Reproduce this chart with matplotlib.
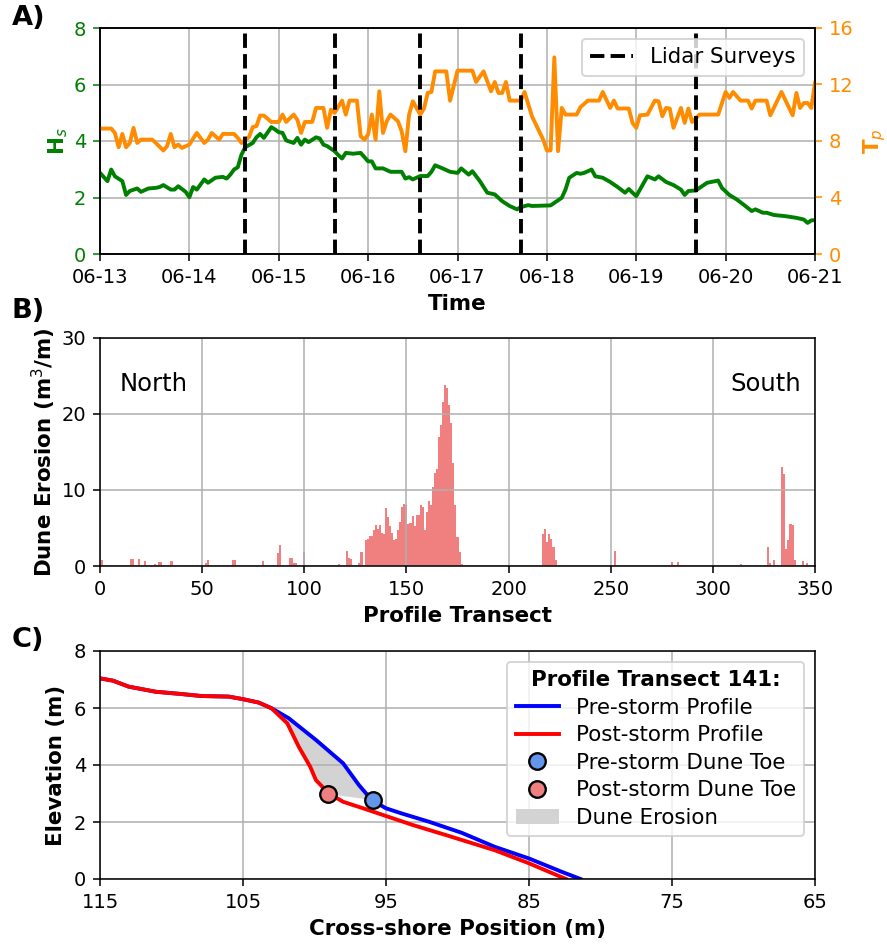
import matplotlib
matplotlib.use("Agg")
import matplotlib.pyplot as plt
import matplotlib.dates as mdates
from matplotlib.lines import Line2D
from matplotlib.patches import Patch
import numpy as np
import pandas as pd

# ---------------- Panel A: wave conditions ----------------
START = pd.Timestamp("2019-06-13")

hs_hours = [0, 2, 3, 4, 6, 7, 8, 10, 11, 13, 15, 16, 17, 19, 20, 21, 23, 24, 25, 26,
            28, 29, 31, 33, 34, 35, 36, 37, 38, 39, 41, 42, 43, 44, 46, 47, 48, 49, 50, 52,
            53, 54, 55, 56, 58, 59, 60, 61, 63, 64, 65, 66, 68, 70, 72, 73, 74, 76, 78, 81,
            82, 83, 84, 86, 88, 89, 90, 92, 94, 96, 97, 99, 100, 102, 104, 106, 108, 110, 112, 113,
            115, 116, 121, 122, 124, 125, 126, 128, 129, 130, 132, 133, 135, 137, 139, 141, 142, 143, 144, 145,
            147, 149, 150, 152, 154, 156, 157, 158, 160, 163, 166, 167, 169, 171, 173, 175, 176, 178, 179, 181,
            184, 187, 189, 190, 191, 192]
hs_values = [2.87, 2.58, 2.99, 2.75, 2.58, 2.09, 2.23, 2.32, 2.20, 2.32, 2.34, 2.37, 2.44, 2.28, 2.28, 2.40, 2.20, 2.01, 2.37, 2.28,
             2.64, 2.52, 2.70, 2.73, 2.67, 2.81, 2.99, 3.07, 3.52, 3.78, 3.93, 4.13, 4.25, 4.11, 4.49, 4.41, 4.31, 4.29, 4.02, 3.93,
             4.11, 3.87, 4.05, 3.96, 4.13, 4.09, 3.87, 3.82, 3.64, 3.50, 3.38, 3.58, 3.55, 3.58, 3.28, 3.28, 3.03, 3.03, 2.91, 2.91,
             2.67, 2.72, 2.64, 2.76, 2.76, 2.91, 3.14, 3.03, 2.91, 2.87, 3.03, 2.81, 2.93, 2.58, 2.17, 2.11, 1.87, 1.70, 1.58, 1.66,
             1.73, 1.70, 1.72, 1.81, 1.99, 2.28, 2.70, 2.87, 2.84, 2.87, 2.99, 2.75, 2.70, 2.55, 2.37, 2.17, 2.30, 2.17, 2.05, 2.28,
             2.75, 2.64, 2.75, 2.55, 2.44, 2.28, 2.09, 2.23, 2.25, 2.52, 2.60, 2.34, 2.09, 1.93, 1.73, 1.52, 1.58, 1.46, 1.46, 1.38,
             1.34, 1.28, 1.22, 1.10, 1.19, 1.20]

tp_hours = [0, 3, 4, 5, 6, 7, 8, 9, 10, 11, 14, 15, 17, 18, 19, 20, 21, 22, 24, 25,
            26, 28, 29, 30, 32, 33, 36, 37, 38, 40, 41, 42, 43, 44, 46, 48, 49, 50, 52, 53,
            54, 55, 57, 58, 60, 61, 62, 63, 65, 66, 67, 69, 70, 71, 72, 73, 74, 75, 76, 77,
            78, 80, 81, 82, 83, 84, 85, 86, 87, 88, 89, 90, 93, 94, 96, 100, 101, 103, 105, 106,
            107, 108, 109, 110, 113, 114, 116, 119, 120, 121, 122, 123, 124, 125, 128, 129, 131, 134, 135, 137,
            138, 139, 142, 143, 144, 145, 147, 149, 150, 151, 152, 153, 154, 156, 157, 158, 159, 161, 166, 168,
            169, 170, 172, 174, 175, 176, 179, 180, 183, 186, 187, 188, 189, 190, 191, 192]
tp_values = [8.88, 8.88, 8.57, 7.56, 8.50, 7.56, 7.86, 8.93, 7.86, 8.10, 8.10, 7.86, 7.33, 7.63, 8.50, 7.56, 7.75, 7.51, 7.75, 8.17,
             8.57, 7.86, 8.10, 8.57, 8.10, 8.50, 8.50, 8.22, 7.86, 8.27, 8.98, 9.05, 9.80, 9.80, 9.35, 9.35, 9.87, 9.35, 9.87, 9.50,
             8.57, 9.35, 9.35, 10.34, 10.34, 8.93, 10.22, 9.99, 10.86, 9.87, 10.86, 10.86, 8.34, 8.10, 8.46, 9.87, 8.10, 11.52, 8.57, 9.40,
             9.87, 9.40, 8.69, 7.28, 9.87, 10.81, 10.34, 9.87, 10.30, 11.40, 11.47, 12.93, 12.93, 10.85, 12.98, 12.98, 12.18, 12.93, 11.52, 12.18,
             11.40, 11.40, 12.18, 10.86, 10.86, 11.47, 9.75, 8.10, 7.33, 7.33, 13.92, 7.28, 10.34, 9.87, 9.87, 10.39, 10.86, 10.86, 11.47, 10.34,
             10.86, 10.30, 10.30, 9.28, 8.93, 9.82, 9.87, 10.86, 10.81, 9.75, 10.34, 10.30, 8.93, 10.34, 9.28, 10.30, 9.35, 9.87, 9.87, 11.47,
             11.05, 11.47, 10.86, 10.86, 10.30, 10.86, 10.86, 9.82, 11.47, 9.82, 11.40, 10.34, 10.69, 10.69, 10.34, 12.11]

lidar_times = ["2019-06-14 15:00", "2019-06-15 15:00", "2019-06-16 14:00",
               "2019-06-17 17:00", "2019-06-19 16:00"]

# ---------------- Panel B: dune erosion per transect ----------------
N_TRANSECTS = 351
erosion_transects = [1, 15, 16, 19, 22, 27, 29, 30, 35, 52, 53, 65, 66, 80, 87, 88, 93, 94, 95, 96,
                     100, 113, 117, 121, 122, 123, 127, 128, 130, 131, 132, 133, 134, 135, 136, 137, 138, 139, 140, 141,
                     142, 143, 144, 145, 146, 147, 148, 149, 150, 151, 152, 153, 154, 155, 156, 157, 158, 159, 160, 161,
                     162, 163, 164, 165, 166, 167, 168, 169, 170, 171, 172, 173, 174, 175, 176, 177,
                     217, 218, 219, 220, 221, 222, 223, 252, 280, 283, 314, 327, 328, 330,
                     334, 335, 336, 337, 338, 339, 340, 344, 346]
erosion_values = [0.8, 0.9, 0.9, 0.9, 0.6, 0.3, 0.5, 0.5, 0.6, 0.4, 0.8, 0.8, 0.8, 0.6, 1.75, 2.75, 1.0, 1.0, 0.4, 0.4,
                  1.8, 0.1, 0.2, 2.0, 1.0, 0.9, 0.4, 1.9, 3.4, 3.5, 4.0, 3.9, 4.7, 5.4, 4.9, 5.4, 4.3, 4.2, 7.6, 6.5,
                  5.2, 4.3, 3.4, 3.6, 4.7, 5.8, 7.8, 8.2, 8.0, 5.5, 5.7, 6.6, 5.3, 6.7, 6.7, 8.0, 7.8, 4.8, 7.1, 8.5,
                  8.0, 10.4, 12.2, 12.7, 17.0, 18.6, 21.6, 23.8, 23.4, 21.2, 18.8, 13.5, 8.0, 3.8, 1.9, 0.2,
                  4.2, 4.9, 3.2, 4.2, 3.5, 2.5, 0.8, 2.0, 0.5, 0.5, 0.2, 2.5, 0.4, 0.8,
                  13.0, 12.1, 2.3, 3.4, 5.5, 5.4, 0.8, 0.7, 0.4]

# ---------------- Panel C: cross-shore profiles ----------------
pre_x = [115, 114.1, 113, 111.1, 109.3, 107.9, 106, 105, 103.9, 103, 101.8, 99.9,
         98, 96.9, 96, 95, 93.9, 92, 89.7, 87.4, 85, 82.7, 81.4]
pre_z = [7.04, 6.96, 6.75, 6.57, 6.49, 6.42, 6.40, 6.31, 6.19, 5.99, 5.64, 4.88,
         4.06, 3.30, 2.77, 2.48, 2.30, 2.01, 1.62, 1.13, 0.72, 0.25, 0.0]
post_x = [115, 114.1, 113, 111.1, 109.3, 107.9, 106, 105, 103.9, 103, 101.9, 101.1,
          100.3, 99.9, 99, 98, 96.6, 95, 93.1, 90.8, 87.4, 85, 82.7, 82.4]
post_z = [7.04, 6.96, 6.75, 6.57, 6.49, 6.42, 6.40, 6.31, 6.19, 5.99, 5.46, 4.64,
          3.94, 3.47, 3.0, 2.71, 2.48, 2.21, 1.89, 1.54, 1.01, 0.55, 0.06, 0.0]
pre_toe = (95.93, 2.77)
post_toe = (99.03, 2.98)
erosion_start_x = 103.0
transect_id = 141

DPI = 140
LABEL_SIZE = 11
LEGEND_SIZE = 11
fig = plt.figure(figsize=(887 / DPI, 944 / DPI), dpi=DPI)

LEFT, WIDTH = 100 / 887, 715 / 887
ax_a = fig.add_axes([LEFT, 1 - 254 / 944, WIDTH, 226 / 944])
ax_b = fig.add_axes([LEFT, 1 - 566 / 944, WIDTH, 228 / 944])
ax_c = fig.add_axes([LEFT, 1 - 879 / 944, WIDTH, 228 / 944])

# ---- A) Hs / Tp time series
hs_t = START + pd.to_timedelta(hs_hours, unit="h")
tp_t = START + pd.to_timedelta(tp_hours, unit="h")

ax_a.plot(hs_t, hs_values, color="green", linewidth=2)
ax_a.set_ylim(0, 8)
ax_a.set_yticks(np.arange(0, 9, 2))
ax_a.set_ylabel("H$_s$", color="green", fontweight="bold", fontsize=LABEL_SIZE, labelpad=2)
ax_a.tick_params(axis="y", colors="green")
ax_a.set_xlim(START, START + pd.Timedelta(days=8))
ax_a.xaxis.set_major_locator(mdates.DayLocator())
ax_a.xaxis.set_major_formatter(mdates.DateFormatter("%m-%d"))
ax_a.set_xlabel("Time", fontweight="bold", fontsize=LABEL_SIZE)
ax_a.grid(True)

ax_tp = ax_a.twinx()
ax_tp.plot(tp_t, tp_values, color="darkorange", linewidth=2)
ax_tp.set_ylim(0, 16)
ax_tp.set_yticks(np.arange(0, 17, 4))
ax_tp.set_ylabel("T$_p$", color="darkorange", fontweight="bold", fontsize=LABEL_SIZE)
ax_tp.tick_params(axis="y", colors="darkorange")

for i, t in enumerate(pd.to_datetime(lidar_times)):
    ax_tp.axvline(t, color="black", linestyle="--", linewidth=2,
                  label="Lidar Surveys" if i == 0 else None)
ax_tp.legend(loc="upper right", fontsize=LEGEND_SIZE)

# ---- B) erosion bars
erosion = np.zeros(N_TRANSECTS)
erosion[erosion_transects] = erosion_values
ax_b.bar(np.arange(N_TRANSECTS), erosion, width=1.0, color="lightcoral")
ax_b.set_xlim(0, 350)
ax_b.set_ylim(0, 30)
ax_b.set_xticks(np.arange(0, 351, 50))
ax_b.set_yticks([0, 10, 20, 30])
ax_b.set_xlabel("Profile Transect", fontweight="bold", fontsize=LABEL_SIZE)
ax_b.set_ylabel("Dune Erosion (m$^3$/m)", fontweight="bold", fontsize=LABEL_SIZE, labelpad=2)
ax_b.text(0.028, 0.80, "North", transform=ax_b.transAxes, fontsize=12.5, va="center")
ax_b.text(0.98, 0.80, "South", transform=ax_b.transAxes, fontsize=12.5, va="center", ha="right")
ax_b.grid(True)

# ---- C) profile comparison
pre_x_arr, pre_z_arr = np.array(pre_x), np.array(pre_z)
post_x_arr, post_z_arr = np.array(post_x), np.array(post_z)
pre_sel = (pre_x_arr <= erosion_start_x) & (pre_x_arr >= pre_toe[0])
post_sel = (post_x_arr <= erosion_start_x) & (post_x_arr >= post_toe[0])
poly_x = np.concatenate([pre_x_arr[pre_sel], [pre_toe[0], post_toe[0]], post_x_arr[post_sel][::-1]])
poly_z = np.concatenate([pre_z_arr[pre_sel], [pre_toe[1], post_toe[1]], post_z_arr[post_sel][::-1]])
ax_c.fill(poly_x, poly_z, color="lightgray", linewidth=0)

toe_style = dict(marker="o", linestyle="none", markeredgecolor="black",
                 markeredgewidth=1.2, markersize=8.5)
ax_c.plot(pre_x, pre_z, color="blue", linewidth=2)
ax_c.plot(post_x, post_z, color="red", linewidth=2)
ax_c.plot(*pre_toe, color="cornflowerblue", **toe_style)
ax_c.plot(*post_toe, color="lightcoral", **toe_style)
ax_c.set_xlim(115, 65)
ax_c.set_ylim(0, 8)
ax_c.set_xticks(np.arange(115, 64, -10))
ax_c.set_yticks(np.arange(0, 9, 2))
ax_c.set_xlabel("Cross-shore Position (m)", fontweight="bold", fontsize=LABEL_SIZE)
ax_c.set_ylabel("Elevation (m)", fontweight="bold", fontsize=LABEL_SIZE)
ax_c.grid(True)

handles = [
    Line2D([], [], color="blue", linewidth=2, label="Pre-storm Profile"),
    Line2D([], [], color="red", linewidth=2, label="Post-storm Profile"),
    Line2D([], [], color="cornflowerblue", label="Pre-storm Dune Toe", **toe_style),
    Line2D([], [], color="lightcoral", label="Post-storm Dune Toe", **toe_style),
    Patch(facecolor="lightgray", label="Dune Erosion"),
]
leg = ax_c.legend(handles=handles, loc="upper right", fontsize=LEGEND_SIZE,
                  title=f"Profile Transect {transect_id}:", title_fontsize=LEGEND_SIZE,
                  labelspacing=0.35)
leg.get_title().set_fontweight("bold")

# panel letters
for label, y_px in [("A)", 18), ("B)", 311), ("C)", 640)]:
    fig.text(12 / 887, 1 - y_px / 944, label, fontsize=14, fontweight="bold", va="center")

fig.savefig("out.png", dpi=DPI)
